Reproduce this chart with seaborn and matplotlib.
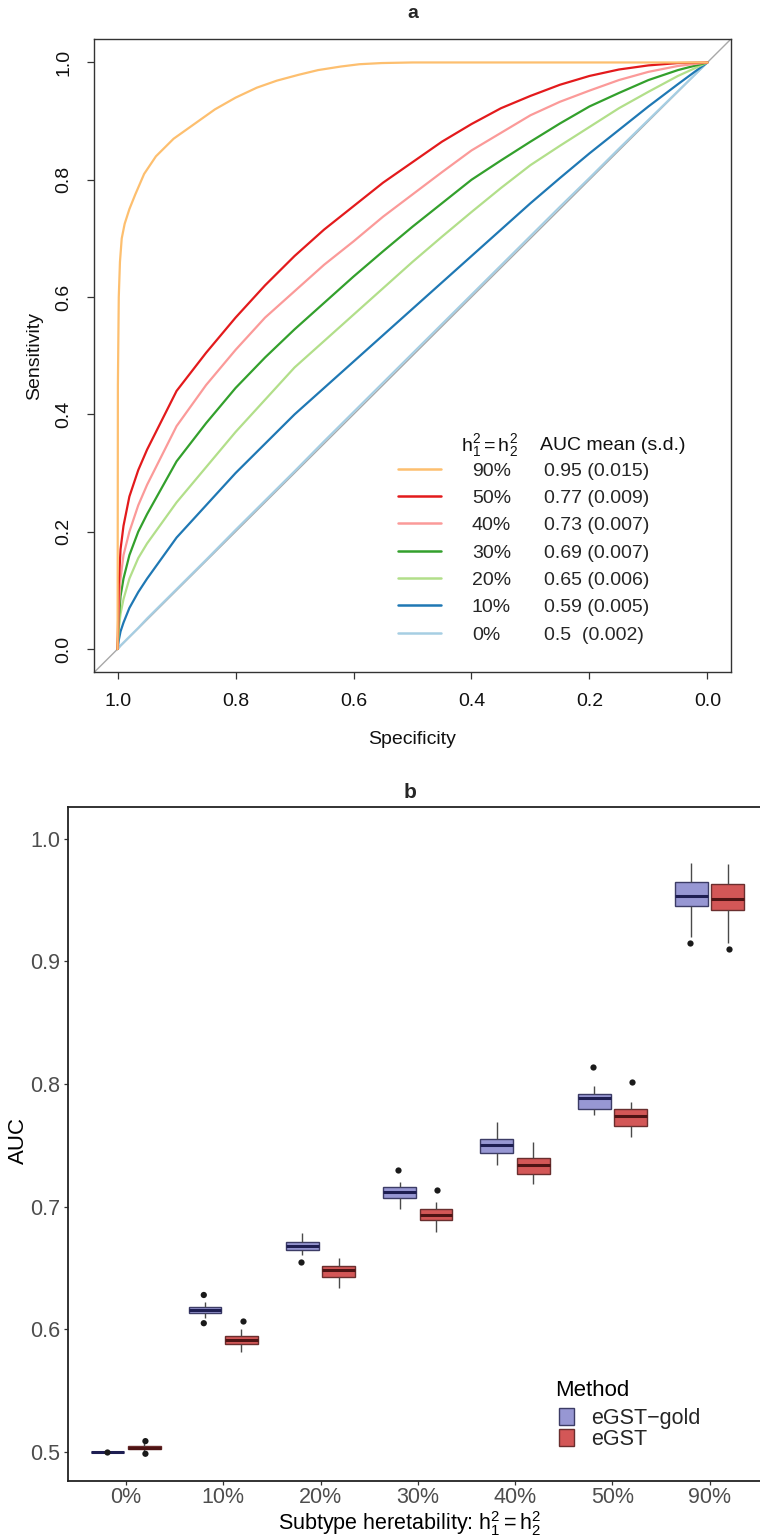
import matplotlib
matplotlib.use("Agg")
import matplotlib.pyplot as plt
from matplotlib.lines import Line2D
from matplotlib.patches import Patch
import pandas as pd
import seaborn as sns

# ---------------- panel a: mean ROC curves per heritability level ----------------
levels_draw = ["0%", "10%", "20%", "30%", "40%", "50%", "90%"]
level_colors = ["#A6CEE3", "#1F78B4", "#B2DF8A", "#33A02C", "#FB9A99", "#E31A1C", "#FDBF6F"]

legend_levels = ["90%", "50%", "40%", "30%", "20%", "10%", "0%"]
legend_auc = ["0.95 (0.015)", "0.77 (0.009)", "0.73 (0.007)", "0.69 (0.007)",
              "0.65 (0.006)", "0.59 (0.005)", "0.5  (0.002)"]

spec_common = [1.0, 0.998, 0.995, 0.99, 0.98, 0.965, 0.95, 0.925, 0.9, 0.85, 0.8, 0.75,
               0.7, 0.65, 0.6, 0.55, 0.5, 0.45, 0.4, 0.35, 0.3, 0.25, 0.2, 0.15, 0.1, 0.05, 0.0]
sens_h0 = [0, 0.002, 0.006, 0.011, 0.021, 0.036, 0.052, 0.077, 0.102, 0.152, 0.203, 0.253,
           0.303, 0.354, 0.404, 0.454, 0.504, 0.554, 0.604, 0.654, 0.704, 0.754, 0.803,
           0.853, 0.902, 0.951, 1.0]
sens_h10 = [0, 0.015, 0.03, 0.045, 0.07, 0.097, 0.12, 0.155, 0.19, 0.245, 0.30, 0.35,
            0.40, 0.445, 0.49, 0.535, 0.58, 0.625, 0.67, 0.715, 0.76, 0.803, 0.845,
            0.885, 0.925, 0.963, 1.0]
sens_h20 = [0, 0.035, 0.06, 0.085, 0.12, 0.155, 0.18, 0.215, 0.25, 0.31, 0.37, 0.425,
            0.48, 0.525, 0.57, 0.615, 0.66, 0.703, 0.745, 0.786, 0.825, 0.858, 0.89,
            0.922, 0.95, 0.977, 1.0]
sens_h30 = [0, 0.05, 0.09, 0.12, 0.16, 0.20, 0.23, 0.275, 0.32, 0.385, 0.445, 0.497,
            0.545, 0.59, 0.635, 0.678, 0.72, 0.76, 0.80, 0.833, 0.865, 0.896, 0.925,
            0.948, 0.97, 0.987, 1.0]
sens_h40 = [0, 0.07, 0.12, 0.16, 0.20, 0.245, 0.28, 0.33, 0.38, 0.45, 0.51, 0.565,
            0.61, 0.655, 0.695, 0.737, 0.775, 0.813, 0.85, 0.88, 0.91, 0.933, 0.952,
            0.97, 0.984, 0.994, 1.0]
sens_h50 = [0, 0.11, 0.17, 0.21, 0.26, 0.305, 0.34, 0.39, 0.44, 0.505, 0.565, 0.62,
            0.67, 0.715, 0.755, 0.795, 0.83, 0.865, 0.895, 0.922, 0.943, 0.962, 0.977,
            0.988, 0.995, 0.999, 1.0]
spec_h90 = [1.0, 0.9995, 0.998, 0.996, 0.993, 0.988, 0.98, 0.97, 0.955, 0.935, 0.905, 0.87,
            0.835, 0.80, 0.764, 0.73, 0.693, 0.66, 0.622, 0.59, 0.552, 0.5, 0.45, 0.0]
sens_h90 = [0, 0.45, 0.60, 0.66, 0.70, 0.725, 0.75, 0.775, 0.81, 0.84, 0.87, 0.895,
            0.92, 0.94, 0.957, 0.969, 0.979, 0.987, 0.993, 0.997, 0.999, 1.0, 1.0, 1.0]

# ---------------- panel b: AUC distribution per method ----------------
categories = ["0%", "10%", "20%", "30%", "40%", "50%", "90%"]
methods = ["eGST\u2212gold", "eGST"]

gold_whisker_low = [0.500, 0.6095, 0.6606, 0.698, 0.7339, 0.7747, 0.920]
gold_q1 = [0.500, 0.6135, 0.6646, 0.707, 0.7439, 0.7798, 0.945]
gold_median = [0.500, 0.616, 0.6681, 0.7117, 0.750, 0.7883, 0.9534]
gold_q3 = [0.500, 0.6184, 0.6714, 0.7162, 0.7549, 0.7918, 0.9648]
gold_whisker_high = [0.500, 0.6225, 0.6787, 0.7203, 0.7692, 0.7983, 0.9798]
gold_outlier_cat = ["0%", "10%", "10%", "20%", "30%", "50%", "90%"]
gold_outlier_val = [0.500, 0.628, 0.605, 0.6551, 0.730, 0.814, 0.9146]

egst_whisker_low = [0.5005, 0.5817, 0.634, 0.679, 0.7184, 0.7565, 0.915]
egst_q1 = [0.5028, 0.588, 0.6429, 0.6888, 0.7266, 0.7657, 0.9417]
egst_median = [0.5037, 0.591, 0.6483, 0.6934, 0.7339, 0.7736, 0.9504]
egst_q3 = [0.5046, 0.5945, 0.6516, 0.698, 0.7399, 0.7793, 0.9627]
egst_whisker_high = [0.5070, 0.600, 0.6579, 0.7035, 0.7529, 0.785, 0.9792]
egst_outlier_cat = ["0%", "0%", "10%", "30%", "50%", "90%"]
egst_outlier_val = [0.5089, 0.4986, 0.607, 0.7133, 0.8018, 0.9097]

fill_colors = ["#9797D3", "#D35757"]
edge_colors = ["#3C3C66", "#6A2E2E"]
median_colors = ["#1E1E52", "#4E1414"]

# ---------------- styling ----------------
sns.set_theme(style="white")
plt.rcParams["font.family"] = ["Liberation Sans", "DejaVu Sans"]
plt.rcParams["mathtext.fontset"] = "custom"
plt.rcParams["mathtext.rm"] = "Liberation Sans"
plt.rcParams["mathtext.it"] = "Liberation Sans:italic"

W, H = 760, 1538
fig = plt.figure(figsize=(W / 100, H / 100), dpi=100)
fig.patch.set_facecolor("white")

# ======== panel a ========
axa = fig.add_axes([94 / W, 1 - 672.5 / H, 637 / W, 633.5 / H])

roc_rows = []
sens_by_level = {"0%": sens_h0, "10%": sens_h10, "20%": sens_h20, "30%": sens_h30,
                 "40%": sens_h40, "50%": sens_h50}
for lvl, sens in sens_by_level.items():
    for s, t in zip(spec_common, sens):
        roc_rows.append({"level": lvl, "specificity": s, "sensitivity": t})
for s, t in zip(spec_h90, sens_h90):
    roc_rows.append({"level": "90%", "specificity": s, "sensitivity": t})
roc_df = pd.DataFrame(roc_rows)

axa.axline((1, 0), (0, 1), color="#A8A8A8", lw=1.0, zorder=1)
sns.lineplot(data=roc_df, x="specificity", y="sensitivity", hue="level",
             hue_order=levels_draw, palette=level_colors, sort=False,
             estimator=None, lw=1.6, legend=False, ax=axa, zorder=2)

axa.set_xlim(1.04, -0.04)
axa.set_ylim(-0.04, 1.04)
ticks_a = [1.0, 0.8, 0.6, 0.4, 0.2, 0.0]
axa.set_xticks(ticks_a)
axa.set_xticklabels([f"{t:.1f}" for t in ticks_a])
axa.set_yticks(ticks_a)
axa.set_yticklabels([f"{t:.1f}" for t in ticks_a])
axa.tick_params(axis="both", direction="out", length=5, width=0.9, color="#333333",
                labelsize=14, labelcolor="#111111")
axa.tick_params(axis="x", pad=9.5, bottom=True)
axa.tick_params(axis="y", pad=10.5, left=True, labelrotation=90)
for lbl in axa.get_yticklabels():
    lbl.set_va("center")
for sp in axa.spines.values():
    sp.set_visible(True)
    sp.set_color("#333333")
    sp.set_linewidth(1.0)

axa.set_xlabel("Specificity", fontsize=14, color="#111111")
axa.set_ylabel("Sensitivity", fontsize=14, color="#111111")
axa.xaxis.set_label_coords(0.5, -0.105)
axa.xaxis.label.set_va("center")
axa.yaxis.set_label_coords(-0.0926, 0.5)
axa.yaxis.label.set_va("center")

legend_line_colors = ["#FDBF6F", "#E31A1C", "#FB9A99", "#33A02C", "#B2DF8A", "#1F78B4", "#A6CEE3"]
line_handles = [Line2D([], [], color=c, lw=1.8) for c in legend_line_colors]
blank_handles = [Line2D([], [], color="none") for _ in legend_auc]
axa.legend(line_handles + blank_handles, legend_levels + legend_auc, ncol=2,
           loc="upper left", bbox_to_anchor=(0.4772, 0.3323), frameon=False,
           fontsize=14, handlelength=2.2, handletextpad=1.6, columnspacing=-2.1,
           labelspacing=0.5, borderpad=0, borderaxespad=0)
axa.text(0.576, 0.359, r"$\mathregular{h_1^2 = h_2^2}$", transform=axa.transAxes,
         fontsize=14, ha="left", va="center", color="#111111")
axa.text(0.700, 0.359, "AUC mean (s.d.)", transform=axa.transAxes,
         fontsize=14, ha="left", va="center", color="#111111")

fig.text(413 / W, 1 - 13 / H, "a", fontsize=14, fontweight="bold", ha="center", va="center")

# ======== panel b ========
axb = fig.add_axes([67.6 / W, 1 - 1481 / H, 700.4 / W, 674 / H])

box_rows = []
for method, parts in zip(methods, [
        (gold_whisker_low, gold_q1, gold_median, gold_q3, gold_whisker_high),
        (egst_whisker_low, egst_q1, egst_median, egst_q3, egst_whisker_high)]):
    for i, cat in enumerate(categories):
        for arr in parts:
            box_rows.append({"h2": cat, "Method": method, "AUC": arr[i]})
box_df = pd.DataFrame(box_rows)

outlier_df = pd.DataFrame(
    [{"h2": c, "Method": methods[0], "AUC": v} for c, v in zip(gold_outlier_cat, gold_outlier_val)]
    + [{"h2": c, "Method": methods[1], "AUC": v} for c, v in zip(egst_outlier_cat, egst_outlier_val)]
)

sns.boxplot(data=box_df, x="h2", y="AUC", hue="Method", order=categories,
            hue_order=methods, palette=fill_colors, saturation=1, width=0.75,
            gap=0.1, whis=(0, 100), showcaps=False, showfliers=False,
            linewidth=1.0, legend=False, ax=axb)
for cont, ec, mc in zip(axb.containers, edge_colors, median_colors):
    for box in cont.boxes:
        box.set_edgecolor(ec)
        box.set_linewidth(1.0)
    for med in cont.medians:
        med.set_color(mc)
        med.set_linewidth(2.2)
    for wh in cont.whiskers:
        wh.set_color("#4A4A4A")
        wh.set_linewidth(1.0)

sns.stripplot(data=outlier_df, x="h2", y="AUC", hue="Method", order=categories,
              hue_order=methods, palette=["#1A1A1A", "#1A1A1A"], dodge=True,
              jitter=False, size=4.5, linewidth=0, legend=False, ax=axb, zorder=4)

axb.set_xlim(-0.6, 6.6)
axb.set_ylim(0.4764, 1.0257)
axb.set_yticks([0.5, 0.6, 0.7, 0.8, 0.9, 1.0])
axb.set_yticklabels(["0.5", "0.6", "0.7", "0.8", "0.9", "1.0"])
axb.set_xticks(range(len(categories)))
axb.set_xticklabels(categories)
axb.tick_params(axis="both", direction="out", length=3, width=0.9, color="#333333",
                labelsize=15.5, labelcolor="#4D4D4D")
axb.tick_params(axis="x", pad=1.0, bottom=True)
axb.tick_params(axis="y", pad=2.5, left=True)
for name, sp in axb.spines.items():
    sp.set_visible(name != "right")
    sp.set_color("#222222")
    sp.set_linewidth(1.3)

axb.set_xlabel(r"Subtype heretability: $\mathregular{h_1^2 = h_2^2}$", fontsize=15.5, color="black")
axb.set_ylabel("AUC", fontsize=16, color="black")
axb.xaxis.set_label_coords((410 - 67.6) / 700.4, (1481 - 1524) / 674)
axb.xaxis.label.set_va("center")
axb.yaxis.set_label_coords((18 - 67.6) / 700.4, (1481 - 1140) / 674)
axb.yaxis.label.set_va("center")

key_handles = [Patch(facecolor=fc, edgecolor=ec, linewidth=1.0)
               for fc, ec in zip(fill_colors, edge_colors)]
axb.legend(key_handles, methods, loc="upper left",
           bbox_to_anchor=((559 - 67.6) / 700.4, (1481 - 1408) / 674),
           frameon=False, fontsize=15.5, handlelength=0.7, handleheight=0.8,
           handletextpad=0.8, labelspacing=0.0, borderpad=0, borderaxespad=0)
axb.text((555 - 67.6) / 700.4, (1481 - 1390) / 674, "Method", transform=axb.transAxes,
         fontsize=16, ha="left", va="center", color="black")

fig.text(410 / W, 1 - 793 / H, "b", fontsize=15, fontweight="bold", ha="center", va="center")

fig.savefig("out.png", dpi=100, facecolor="white")
